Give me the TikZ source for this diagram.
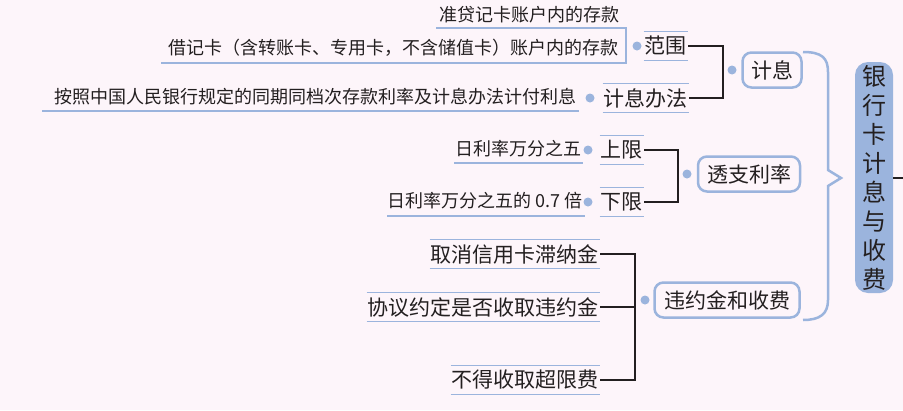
\documentclass[tikz,border=0pt]{standalone}
\usepackage{fontspec}
\setmainfont{Noto Sans CJK SC}
\definecolor{bg}{HTML}{FDF5FA}
\definecolor{bl}{HTML}{9BB4DD}
\definecolor{txt}{HTML}{231F20}
\begin{document}
\begin{tikzpicture}[x=1pt,y=-1pt,
  leaf/.style={anchor=east,inner sep=0pt,text=txt,font=\fontsize{18}{18}\selectfont},
  lvtwo/.style={anchor=east,inner xsep=1pt,inner ysep=0pt,text=txt,font=\fontsize{21}{21}\selectfont},
  ul/.style={draw=bl,line width=1.6pt},
  dotc/.style={circle,fill=bl,inner sep=0pt,minimum size=9pt},
  conn/.style={draw=txt,line width=1.6pt},
  lvone/.style={draw=bl,line width=2.5pt,rounded corners=9pt,fill=bg,text=txt,inner xsep=6pt,minimum height=35pt,font=\fontsize{21}{21}\selectfont}]
\fill[bg] (0,0) rectangle (903,410);
\useasboundingbox (0,0) rectangle (903,410);
% leaves
\node[leaf] (zd) at (620,15) {准贷记卡账户内的存款};
\node[leaf] (jj) at (619,48) {借记卡（含转账卡、专用卡，不含储值卡）账户内的存款};
\node[leaf] (az) at (577,97) {按照中国人民银行规定的同期同档次存款利率及计息办法计付利息};
\node[leaf] (sx) at (582,149) {日利率万分之五};
\node[leaf] (xx) at (583,201) {日利率万分之五的 0.7 倍};
\coordinate (zdc) at (626,28);
\coordinate (jjc) at (626,63);
\draw[ul] (436,28) -- (zdc) -- (jjc) -- (161,63);
\draw[ul] (42,111) -- (579,111);
\draw[ul] (454,163) -- (583,163);
\draw[ul] (387,216) -- (585,216);
% level 2
\node[lvtwo] (fw) at (688,46) {范围};
\node[lvtwo] (bf) at (689,98) {计息办法};
\node[lvtwo] (shx) at (644,150) {上限};
\node[lvtwo] (xix) at (644,202) {下限};
\node[lvtwo] (qx) at (600,254) {取消信用卡滞纳金};
\node[lvtwo] (xy) at (600,307) {协议约定是否收取违约金};
\node[lvtwo] (bd) at (600,380) {不得收取超限费};
\foreach \n in {fw,bf,shx,xix,qx,xy,bd}{
  \draw[ul] ([yshift=14.5pt]\n.west) -- ([yshift=14.5pt]\n.east);
  \draw[ul] ([yshift=-14.5pt]\n.west) -- ([yshift=-14.5pt]\n.east);
}
% dots
\node[dotc] (d1) at (637,46) {};
\node[dotc] (d2) at (590,98) {};
\node[dotc] (d3) at (588,150) {};
\node[dotc] (d4) at (588,202) {};
\node[dotc] (d5) at (732,70) {};
\node[dotc] (d6) at (687,174) {};
\node[dotc] (d7) at (645,300) {};
% level 1
\node[lvone,minimum width=59pt] (jx) at (772,70) {计息};
\node[lvone,minimum width=102pt] (tz) at (749,174) {透支利率};
\node[lvone,minimum width=145pt] (wy) at (727,300) {违约金和收费};
% connectors
\coordinate (j1) at (723,46);
\coordinate (j2) at (678,150);
\coordinate (j3) at (635,254);
\draw[conn] (fw.east) -- (j1) |- (bf.east);
\draw[conn] (shx.east) -- (j2) |- (xix.east);
\draw[conn] (qx.east) -- (j3) |- (bd.east);
\draw[conn] (xy.east) -- (xy.east -| j3);
% brace
\draw[draw=bl,line width=2.5pt,line join=miter] (803,52) .. controls (822,52) and (828,58) .. (828,72) -- (828,170) -- (841,178) -- (828,186) -- (828,300) .. controls (828,314) and (820,320) .. (803,320);
% root
\node[fill=bl,rounded corners=13pt,minimum width=38pt,minimum height=231pt,inner sep=0pt,text=txt,font=\fontsize{24}{29}\selectfont,align=center] (root) at (874,177.5) {银\\行\\卡\\计\\息\\与\\收\\费};
\coordinate (re) at (903,178);
\draw[conn] (root.east |- re) -- (re);
\end{tikzpicture}
\end{document}
